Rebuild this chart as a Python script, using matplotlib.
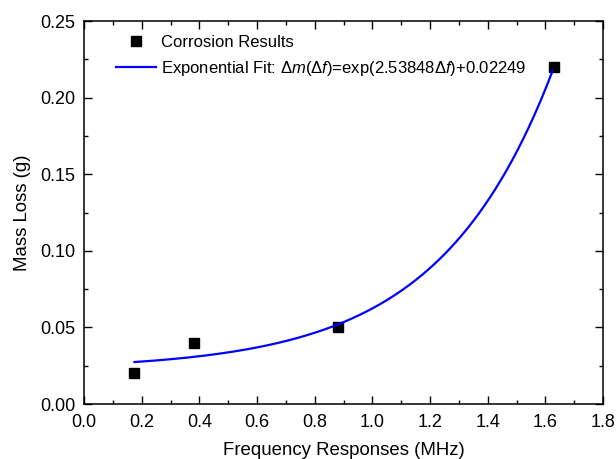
import numpy as np
import matplotlib
matplotlib.use('Agg')
import matplotlib.pyplot as plt
from matplotlib.ticker import MultipleLocator

plt.rcParams['font.family'] = ['Liberation Sans', 'DejaVu Sans']
plt.rcParams['mathtext.fontset'] = 'custom'
plt.rcParams['mathtext.rm'] = 'Liberation Sans'
plt.rcParams['mathtext.it'] = 'Liberation Sans:italic'

# measured points
freq = [0.175, 0.38, 0.88, 1.63]
mass_loss = [0.02, 0.04, 0.05, 0.22]

# fit parameters (rate and offset from the legend)
fit_rate = 2.53848
fit_offset = 0.02249
fit_range = (0.175, 1.625)

f_arr = np.array(freq)
e = np.exp(fit_rate * f_arr)
fit_amp = np.sum((np.array(mass_loss) - fit_offset) * e) / np.sum(e ** 2)
f_fit = np.linspace(fit_range[0], fit_range[1], 300)
m_fit = fit_amp * np.exp(fit_rate * f_fit) + fit_offset

fig = plt.figure(figsize=(6.16, 4.59), dpi=100)
ax = fig.add_axes([0.1364, 0.1198, 0.8425, 0.8344])

ax.plot(freq, mass_loss, 's', color='black', markersize=6.5, label='Corrosion Results')
ax.plot(f_fit, m_fit, '-', color='#0000ff', linewidth=1.6,
        label=r'Exponential Fit: $\Delta m$($\Delta f$)=exp(2.53848$\Delta f$)+0.02249')

ax.set_xlim(0, 1.8)
ax.set_ylim(0, 0.25)
ax.xaxis.set_major_locator(MultipleLocator(0.2))
ax.xaxis.set_minor_locator(MultipleLocator(0.1))
ax.yaxis.set_major_locator(MultipleLocator(0.05))
ax.yaxis.set_minor_locator(MultipleLocator(0.025))
ax.xaxis.set_major_formatter(plt.FormatStrFormatter('%.1f'))
ax.yaxis.set_major_formatter(plt.FormatStrFormatter('%.2f'))

ax.tick_params(which='both', direction='in', top=True, right=True, labelsize=13, width=1)
ax.tick_params(which='major', length=6)
ax.tick_params(which='minor', length=3)
ax.tick_params(axis='x', which='major', pad=7)
ax.tick_params(axis='y', which='major', pad=6)
for s in ax.spines.values():
    s.set_linewidth(1.1)

ax.set_xlabel('Frequency Responses (MHz)', fontsize=13.4, labelpad=8)
ax.set_ylabel('Mass Loss (g)', fontsize=13.4, labelpad=7)

ax.legend(loc='upper left', bbox_to_anchor=(0.035, 1.0), frameon=False, fontsize=12,
          handlelength=2.35, handletextpad=0.3, borderaxespad=0.45, labelspacing=0.5)

fig.savefig('out.png', dpi=100)
